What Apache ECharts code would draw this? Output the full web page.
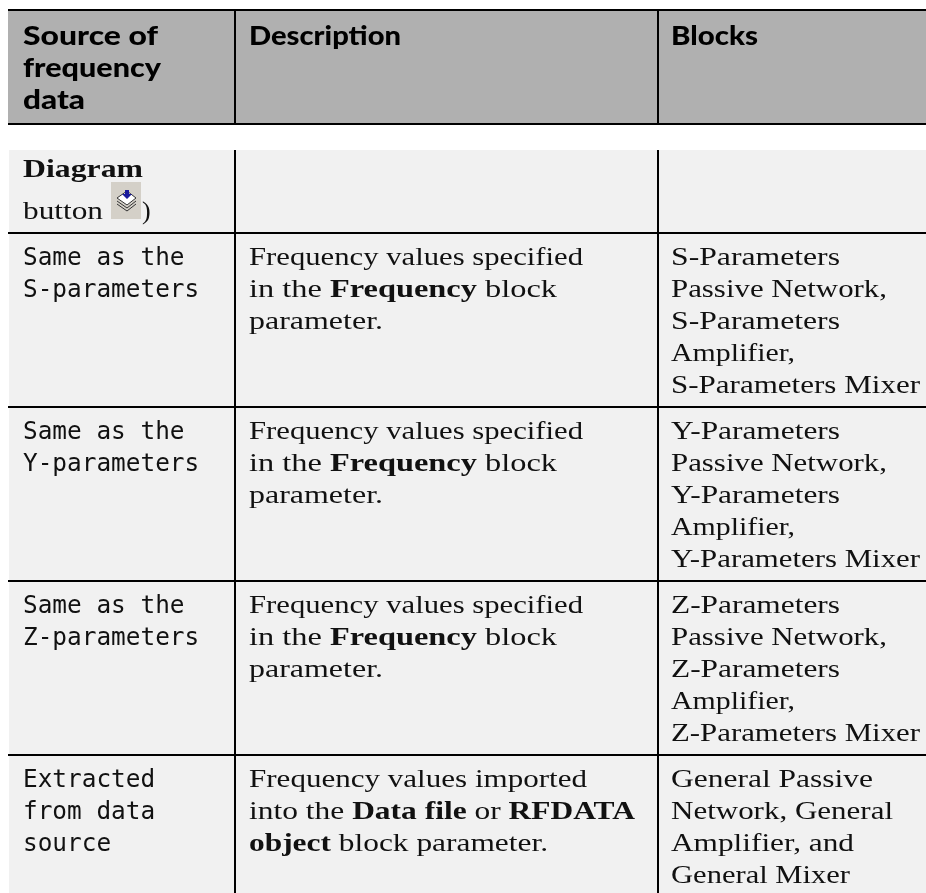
<!DOCTYPE html>
<html>
<head>
<meta charset="utf-8">
<style>
html, body { margin: 0; padding: 0; background: #fff; }
#main { width: 926px; height: 893px; }
</style>
<script src="https://cdn.jsdelivr.net/npm/echarts@6/dist/echarts.min.js"></script>
</head>
<body>
<div id="main"></div>
<script>
// table text, one list per column
const headers = [
	['Source of', 'frequency', 'data'],
	['Description'],
	['Blocks']
];
const sourceCol = [
	['{b|Diagram}', 'button'],
	['{m|Same as the}', '{m|S-parameters}'],
	['{m|Same as the}', '{m|Y-parameters}'],
	['{m|Same as the}', '{m|Z-parameters}'],
	['{m|Extracted}', '{m|from data}', '{m|source}']
];
const descriptionCol = [
	[],
	['Frequency values specified', 'in the {b|Frequency} block', 'parameter.'],
	['Frequency values specified', 'in the {b|Frequency} block', 'parameter.'],
	['Frequency values specified', 'in the {b|Frequency} block', 'parameter.'],
	['Frequency values imported', 'into the {b|Data file} or {b|RFDATA}', '{b|object} block parameter.']
];
const blocksCol = [
	[],
	['S-Parameters', 'Passive Network,', 'S-Parameters', 'Amplifier,', 'S-Parameters Mixer'],
	['Y-Parameters', 'Passive Network,', 'Y-Parameters', 'Amplifier,', 'Y-Parameters Mixer'],
	['Z-Parameters', 'Passive Network,', 'Z-Parameters', 'Amplifier,', 'Z-Parameters Mixer'],
	['General Passive', 'Network, General', 'Amplifier, and', 'General Mixer']
];
const bodyCols = [sourceCol, descriptionCol, blocksCol];

// layout, in page pixels
const colEdges = [8, 235, 658, 926];
const colText = [23, 249, 671];
const headerEdges = [10, 124];
const rowEdges = [150, 233, 407, 581, 755, 893];
const LINE = 32;

// the original face is wider than the installed ones, so lines get stretched to these widths
const lineWidths = {
	'Source of': 135, 'frequency': 138, 'data': 62, 'Description': 152, 'Blocks': 87,
	'{b|Diagram}': 120, 'button': 80,
	'Frequency values specified': 334, 'in the {b|Frequency} block': 308, 'parameter.': 134,
	'Frequency values imported': 338, 'into the {b|Data file} or {b|RFDATA}': 386, '{b|object} block parameter.': 299,
	'S-Parameters': 169, 'Y-Parameters': 169, 'Z-Parameters': 169,
	'Passive Network,': 216, 'Amplifier,': 124,
	'S-Parameters Mixer': 249, 'Y-Parameters Mixer': 249, 'Z-Parameters Mixer': 249,
	'General Passive': 202, 'Network, General': 222, 'Amplifier, and': 183, 'General Mixer': 179
};

const SERIF = '"Liberation Serif", serif';
const MONO = '"DejaVu Sans Mono", monospace';
const HEAD = 'Lato, sans-serif';

function fitScale(line, style) {
	let target = lineWidths[line];
	if (!target) return 1;
	let probe = new echarts.graphic.Text({ style: Object.assign({ text: line }, style) });
	return target / probe.getBoundingRect().width;
}

function textEl(api, x, y, line, style) {
	let p = api.coord([x, y]);
	let full = Object.assign({ text: line, fill: '#111', textVerticalAlign: 'middle' }, style);
	return {
		type: 'text',
		x: p[0], y: p[1],
		scaleX: fitScale(line, style),
		silent: true,
		style: full
	};
}

let option = {
	animation: false,
	grid: { left: 0, right: 0, top: 0, bottom: 0 },
	xAxis: { type: 'value', min: 0, max: 926, show: false },
	yAxis: { type: 'value', min: 0, max: 893, inverse: true, show: false },
	series: [
		{
			// header band, body band and their rules
			type: 'custom',
			coordinateSystem: 'cartesian2d',
			clip: false,
			data: [[0]],
			renderItem: function (params, api) {
				let kids = [];
				let rect = (x0, y0, x1, y1, fill) => {
					let a = api.coord([x0, y0]), b = api.coord([x1, y1]);
					kids.push({ type: 'rect', shape: { x: a[0], y: a[1], width: b[0] - a[0], height: b[1] - a[1] }, style: { fill: fill } });
				};
				let right = colEdges[3], left = colEdges[0];
				let bottom = rowEdges[rowEdges.length - 1];
				rect(left, headerEdges[0], right, headerEdges[1], '#b0b0b0');
				rect(left + 1, rowEdges[0], right, bottom, '#f1f1f1');
				rect(left, headerEdges[0] - 1, right, headerEdges[0] + 1, '#000');
				rect(left, headerEdges[1] - 1, right, headerEdges[1] + 1, '#000');
				rowEdges.slice(1, -1).forEach(y => rect(left, y - 1, right, y + 1, '#000'));
				colEdges.slice(1, -1).forEach(x => {
					rect(x - 1, headerEdges[0], x + 1, headerEdges[1], '#000');
					rect(x - 1, rowEdges[0], x + 1, bottom, '#000');
				});
				// save button icon
				rect(111, 182, 141, 219, '#d4d0c8');
				kids.push({ type: 'polygon', shape: { points: [[117, 198], [127, 191], [136, 198], [127, 205]] }, style: { fill: '#fff', stroke: '#333', lineWidth: 1 } });
				kids.push({ type: 'polyline', shape: { points: [[117, 201], [127, 208], [136, 201]] }, style: { fill: 'none', stroke: '#333', lineWidth: 1 } });
				kids.push({ type: 'polyline', shape: { points: [[117, 204], [127, 211], [136, 204]] }, style: { fill: 'none', stroke: '#333', lineWidth: 1 } });
				kids.push({ type: 'polygon', shape: { points: [[125, 190], [129, 190], [129, 194], [132, 194], [127, 199], [122, 194], [125, 194]] }, style: { fill: '#1a1a9c' } });
				return { type: 'group', children: kids };
			}
		},
		{
			// header text
			type: 'custom',
			coordinateSystem: 'cartesian2d',
			clip: false,
			data: headers.map((h, c) => [c]),
			renderItem: function (params, api) {
				let c = api.value(0);
				return {
					type: 'group',
					children: headers[c].map((line, i) => textEl(api, colText[c], 36 + i * LINE, line, {
						font: '900 27px ' + HEAD, fill: '#000'
					}))
				};
			}
		},
		{
			// body text, one item per cell
			type: 'custom',
			coordinateSystem: 'cartesian2d',
			clip: false,
			data: bodyCols.flatMap((col, c) => col.map((cell, r) => [c, r])),
			renderItem: function (params, api) {
				let c = api.value(0), r = api.value(1);
				let bodyStyle = {
					font: '26px ' + SERIF,
					rich: {
						b: { font: 'bold 26px ' + SERIF, fill: '#111' },
						m: { font: '24.4px ' + MONO, fill: '#111' }
					}
				};
				let kids = bodyCols[c][r].map((line, i) => {
					let y = rowEdges[r] + 25 + i * LINE;
					if (line.indexOf('{m|') === 0) y += 1;
					// the icon makes the second line of this row taller
					if (r === 0) y = 170 + i * 42;
					return textEl(api, colText[c], y, line, bodyStyle);
				});
				if (r === 0 && c === 0) kids.push(textEl(api, 142, 212, ')', bodyStyle));
				return { type: 'group', children: kids };
			}
		}
	]
};

let chart = echarts.init(document.getElementById('main'));
chart.setOption(option);
</script>
</body>
</html>
